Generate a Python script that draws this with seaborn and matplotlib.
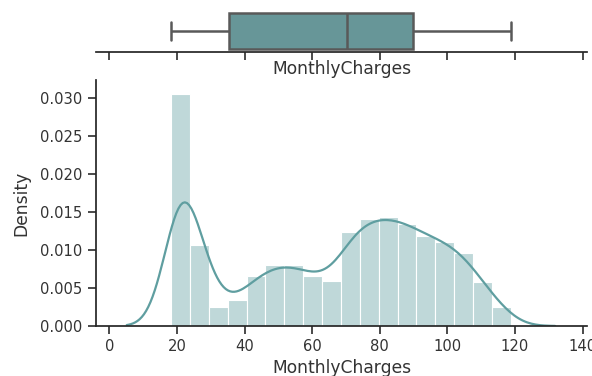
import numpy as np
import matplotlib
matplotlib.use("Agg")
import matplotlib.pyplot as plt
import seaborn as sns

# Monthly charges: histogram bins (edges) and density per bin
bin_edges = list(np.linspace(18.25, 118.75, 19))
bin_density = [0.0306, 0.01066, 0.0025, 0.0034, 0.0066, 0.0080, 0.0081, 0.0066, 0.0059,
               0.0124, 0.01404, 0.0143, 0.0135, 0.01184, 0.0111, 0.00965, 0.00583, 0.00254]

# Five-number summary: min, Q1, median, Q3, max
box_values = [18.25, 35.5, 70.35, 89.85, 118.75]

sns.set_theme(style="ticks", context="notebook")
plt.rcParams["text.color"] = ".2"
plt.rcParams["axes.labelcolor"] = ".2"
plt.rcParams["xtick.color"] = ".2"
plt.rcParams["ytick.color"] = ".2"

fig = plt.figure(figsize=(5.92, 3.76), dpi=100)
ax_box = fig.add_axes([0.162, 0.8625, 0.83, 0.115])
ax_hist = fig.add_axes([0.162, 0.133, 0.83, 0.654], sharex=ax_box)

color = "cadetblue"

sns.boxplot(x=box_values, ax=ax_box, color=color, linewidth=1.8, width=0.8,
            linecolor=".35")
ax_box.set_ylim(0.46, -0.5)
ax_box.set_xlabel("MonthlyCharges", fontsize=12.3, labelpad=0)
ax_box.tick_params(axis="x", labelbottom=False)
ax_box.set_yticks([])
sns.despine(ax=ax_box, left=True)

edges = np.array(bin_edges)
centers = (edges[:-1] + edges[1:]) / 2
sns.histplot(x=centers, weights=bin_density, bins=bin_edges, stat="count",
             color=color, alpha=0.4, edgecolor="white", linewidth=0.8, ax=ax_hist)
sns.kdeplot(x=centers, weights=bin_density, bw_adjust=0.28, cut=3.4, color=color,
            linewidth=1.6, ax=ax_hist)
ax_hist.set_ylabel("Density", fontsize=12.3, labelpad=7.5)
ax_hist.set_xlabel("MonthlyCharges", fontsize=12.3, labelpad=3.5)
ax_hist.set_yticks(np.arange(0, 0.031, 0.005))
ax_hist.set_xticks(np.arange(0, 141, 20))
ax_hist.tick_params(labelsize=10.6)
ax_hist.set_xlim(-4, 141.4)
ax_hist.set_ylim(0, 0.0324)
sns.despine(ax=ax_hist)

fig.savefig("out.png", dpi=100)
